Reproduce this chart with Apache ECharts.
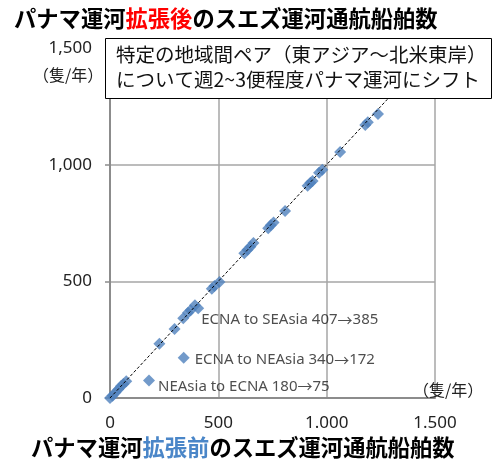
<!DOCTYPE html>
<html><head><meta charset="utf-8">
<script src="https://cdn.jsdelivr.net/npm/echarts@6/dist/echarts.min.js"></script>
<style>html,body{margin:0;padding:0;background:#fff}#c{width:496px;height:462px}</style>
</head><body><div id="c"></div>
<script>
// Suez Canal transits per route pair: [before Panama expansion, after expansion] (ships/year)
const routePoints = [
  [0,0],[12,10],[25,24],[38,36],[50,50],[62,60],[75,72],
  [228,232],[298,296],[338,342],[360,365],[372,376],[392,398],[470,468],[482,480],[505,497],
  [620,620],[635,635],[648,648],[662,664],[730,728],[742,740],[755,752],[808,801],
  [912,910],[925,922],[935,930],[965,965],[980,978],[1062,1054],[1178,1170],[1190,1182],[1237,1217]
];
const outlierNames = ['ECNA to SEAsia','ECNA to NEAsia','NEAsia to ECNA'];
const outlierBefore = [407, 340, 180];
const outlierAfter = [385, 172, 75];
const refLine = [[0,0],[1280,1280]];
const axisTicks = [0, 500, 1000, 1500];
const yTickLabels = ['0','500','1,000','1,500'];
const xTickLabels = ['0','500','1.000','1.500'];
const titleTop = ['パナマ運河','拡張後','のスエズ運河通航船舶数'];
const titleBottom = ['パナマ運河','拡張前','のスエズ運河通航船舶数'];
const unitLabel = '（隻/年）';
const noteLines = ['特定の地域間ペア（東アジア～北米東岸）','について週2~3便程度パナマ運河にシフト'];

const chart = echarts.init(document.getElementById('c'), null, {renderer:'canvas'});
const jp = '"Noto Sans CJK JP", sans-serif';
const num = '"Noto Sans", "Liberation Sans", sans-serif';
const labelOffsets = [[-8, 12], [0, 2], [-2, 6]];
const outlierData = outlierNames.map((n, i) => ({
  value: [outlierBefore[i], outlierAfter[i]],
  label: {offset: labelOffsets[i]}
}));
const tickLabel = (arr) => (v) => { const i = axisTicks.indexOf(v); return i >= 0 ? arr[i] : ''; };

chart.setOption({
  animation: false,
  grid: {left: 110, right: 61, top: 48, bottom: 64},
  xAxis: {
    type: 'value', min: 0, max: 1500, interval: 500,
    axisLine: {show: true, lineStyle: {color: '#8c8c8c', width: 2}},
    axisTick: {show: false},
    splitLine: {show: true, lineStyle: {color: '#a6a6a6', width: 1.5}},
    axisLabel: {formatter: tickLabel(xTickLabels), color: '#222', fontSize: 17, fontFamily: num, margin: 17}
  },
  yAxis: {
    type: 'value', min: 0, max: 1500, interval: 500,
    axisLine: {show: true, lineStyle: {color: '#8c8c8c', width: 2}},
    axisTick: {show: true, length: 5, lineStyle: {color: '#8c8c8c', width: 1.5}},
    splitLine: {show: true, lineStyle: {color: '#a6a6a6', width: 1.5}},
    axisLabel: {formatter: tickLabel(yTickLabels), color: '#222', fontSize: 17, fontFamily: num, margin: 18}
  },
  series: [
    {type: 'scatter', data: routePoints, symbol: 'diamond', symbolSize: 12,
     itemStyle: {color: '#4f81bd'}, z: 2},
    {type: 'scatter', data: outlierData, symbol: 'diamond', symbolSize: 12,
     itemStyle: {color: '#4f81bd'}, z: 2,
     label: {show: true, position: 'right', color: '#222', fontSize: 15, fontFamily: num,
       formatter: (p) => outlierNames[p.dataIndex] + ' ' + outlierBefore[p.dataIndex] + '{ar|→}' + outlierAfter[p.dataIndex],
       rich: {ar: {fontSize: 15, fontFamily: jp, color: '#222'}}}},
    {type: 'line', data: refLine, symbol: 'none', z: 3,
     lineStyle: {color: '#000', width: 1, type: [3, 2]}}
  ],
  graphic: [
    {type: 'text', left: 14, top: 7, z: 10,
     style: {text: '{a|' + titleTop[0] + '}{r|' + titleTop[1] + '}{a|' + titleTop[2] + '}',
       rich: {a: {fontSize: 22.3, fontWeight: 'bold', fill: '#000', fontFamily: jp},
              r: {fontSize: 22.3, fontWeight: 'bold', fill: '#ff0000', fontFamily: jp}}}},
    {type: 'text', left: 31, top: 436, z: 10,
     style: {text: '{a|' + titleBottom[0] + '}{b|' + titleBottom[1] + '}{a|' + titleBottom[2] + '}',
       rich: {a: {fontSize: 22.3, fontWeight: 'bold', fill: '#000', fontFamily: jp},
              b: {fontSize: 22.3, fontWeight: 'bold', fill: '#4a86c8', fontFamily: jp}}}},
    {type: 'rect', shape: {x: 105.5, y: 38.5, width: 386, height: 60}, z: 10,
     style: {fill: '#fff', stroke: '#000', lineWidth: 1}},
    {type: 'text', left: 116, top: 42, z: 11,
     style: {text: noteLines.join('\n'), fontSize: 19.5, lineHeight: 25, fill: '#111', fontFamily: jp}},
    {type: 'text', left: 33, top: 67, z: 10,
     style: {text: unitLabel, fontSize: 16, fill: '#222', fontFamily: jp}},
    {type: 'text', left: 413, top: 382, z: 10,
     style: {text: unitLabel, fontSize: 16, fill: '#222', fontFamily: jp}}
  ]
});
</script></body></html>
